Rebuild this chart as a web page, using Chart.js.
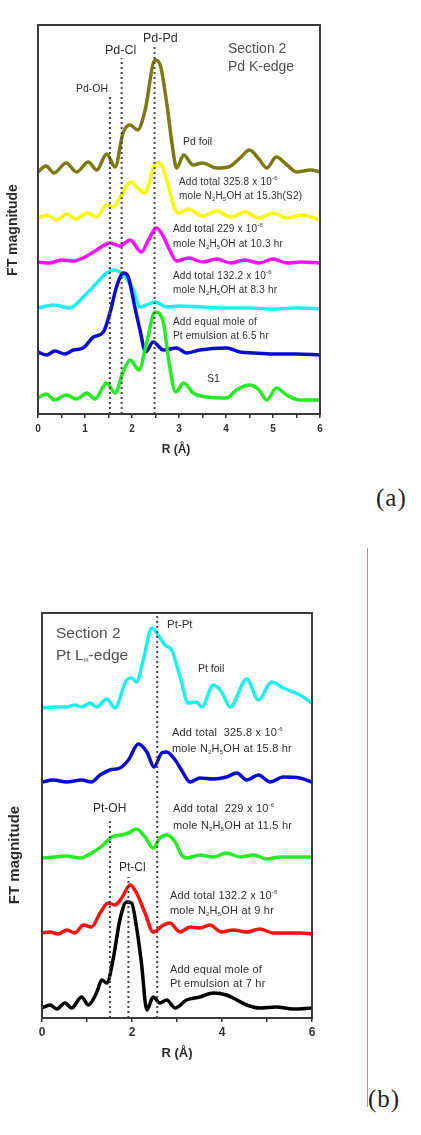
<!DOCTYPE html>
<html>
<head>
<meta charset="utf-8">
<script src="https://cdn.jsdelivr.net/npm/chart.js@4.4.1/dist/chart.umd.min.js"></script>
<style>
  body { margin: 0; background: #fff; width: 421px; height: 1135px; position: relative; overflow: hidden;
         font-family: Arial, "Liberation Sans", sans-serif; color: #2e2e2e; }
  canvas { position: absolute; left: 0; }
  .t { position: absolute; white-space: nowrap; line-height: 1; }
  .ann { font-size: 10px; line-height: 14px; letter-spacing: 0.2px; }
  .annb { font-size: 11px; letter-spacing: 0.2px; }
  sub { font-size: 6px; vertical-align: -2px; line-height: 0; }
  sup { font-size: 6px; vertical-align: 5px; line-height: 0; }
  .bold { font-weight: bold; color: #2a2a2a; }
  .rot { transform: translate(-50%, -50%) rotate(-90deg); }
  .ser { font-family: "Liberation Serif", "Times New Roman", serif; font-size: 25px; color: #222; letter-spacing: 1px; }
</style>
</head>
<body>
<canvas id="chartA" width="340" height="470" style="top:0"></canvas>
<canvas id="chartB" width="340" height="520" style="top:560px"></canvas>

<!-- panel (a) labels -->
<div class="t" style="left:76px;top:83px;font-size:10.5px">Pd-OH</div>
<div class="t" style="left:105px;top:44px;font-size:12.5px">Pd-Cl</div>
<div class="t" style="left:143px;top:32px;font-size:12.5px">Pd-Pd</div>
<div class="t" style="left:228px;top:39px;font-size:14px;line-height:18px;color:#505050">Section 2<br>Pd K-edge</div>
<div class="t" style="left:183px;top:136px;font-size:10.5px">Pd foil</div>
<div class="t ann" style="left:179px;top:175px">Add total 325.8 x 10<sup>-6</sup><br>mole N<sub>2</sub>H<sub>5</sub>OH at 15.3h(S2)</div>
<div class="t ann" style="left:173px;top:221px;line-height:15px">Add total 229 x 10<sup>-6</sup><br>mole N<sub>2</sub>H<sub>5</sub>OH at 10.3 hr</div>
<div class="t ann" style="left:173px;top:269px">Add total 132.2 x 10<sup>-6</sup><br>mole N<sub>2</sub>H<sub>5</sub>OH at 8.3 hr</div>
<div class="t ann" style="left:173px;top:315px">Add equal mole of<br>Pt emulsion at 6.5 hr</div>
<div class="t" style="left:207px;top:373px;font-size:10.5px">S1</div>
<div class="t bold rot" style="left:12px;top:230px;font-size:14px">FT magnitude</div>
<div class="t bold" style="left:146px;top:443px;width:60px;text-align:center;font-size:12px">R (Å)</div>
<div class="t ser" style="left:376px;top:485px">(a)</div>

<!-- panel (b) labels -->
<div class="t" style="left:56px;top:622px;font-size:15.5px;line-height:22px;color:#505050">Section 2<br>Pt L<sub>III</sub>-edge</div>
<div class="t" style="left:167px;top:619px;font-size:11.5px">Pt-Pt</div>
<div class="t" style="left:198px;top:663px;font-size:10.5px">Pt foil</div>
<div class="t annb" style="left:172px;top:724px;line-height:16px">Add total &nbsp;325.8 x 10<sup>-6</sup><br>mole N<sub>2</sub>H<sub>5</sub>OH at 15.8 hr</div>
<div class="t" style="left:93px;top:802px;font-size:12px">Pt-OH</div>
<div class="t annb" style="left:173px;top:800px;line-height:17px">Add total &nbsp;229 x 10<sup>-6</sup><br>mole N<sub>2</sub>H<sub>5</sub>OH at 11.5 hr</div>
<div class="t" style="left:119px;top:861px;font-size:12px">Pt-Cl</div>
<div class="t annb" style="left:170px;top:888px;line-height:15px">Add total 132.2 x 10<sup>-6</sup><br>mole N<sub>2</sub>H<sub>5</sub>OH at 9 hr</div>
<div class="t annb" style="left:170px;top:962px;line-height:14px">Add equal mole of<br>Pt emulsion at 7 hr</div>
<div class="t bold rot" style="left:13px;top:855px;font-size:15px">FT magnitude</div>
<div class="t bold" style="left:147px;top:1046px;width:60px;text-align:center;font-size:13px">R (Å)</div>
<div class="t ser" style="left:368px;top:1086px">(b)</div>

<div style="position:absolute;left:367px;top:548px;width:1px;height:559px;background:#ee7777"></div>

<script>
/* global Chart */

// ---- panel (a): Pd K-edge, offset FT magnitudes (a.u.) ----
const foilR = [0, 0.17, 0.34, 0.6, 0.82, 1.07, 1.25, 1.46, 1.64, 1.81, 1.96, 2.12, 2.28, 2.49, 2.6, 2.75, 2.85, 2.95, 3.1, 3.3, 3.5, 3.8, 4.05, 4.3, 4.5, 4.7, 4.87, 5.07, 5.3, 5.5, 5.8, 6];
const foilFT = [24.2, 24.8, 24.1, 25.1, 24.2, 25.2, 24.4, 26.0, 24.7, 28.1, 28.9, 28.4, 30.4, 35.4, 34.9, 30.7, 27.1, 24.6, 25.9, 24.9, 25.1, 24.6, 24.7, 25.6, 26.4, 25.5, 24.6, 25.7, 24.9, 24.2, 24.4, 24.2];

const s2R = [0, 0.2, 0.4, 0.6, 0.8, 1.05, 1.25, 1.45, 1.6, 1.75, 1.97, 2.12, 2.27, 2.52, 2.65, 2.78, 2.9, 3.0, 3.2, 3.5, 3.8, 4.1, 4.4, 4.7, 5.0, 5.3, 5.6, 6];
const s2FT = [19.6, 19.9, 19.4, 20.0, 19.5, 20.1, 19.7, 20.9, 20.7, 21.7, 23.2, 22.6, 22.1, 25.2, 24.7, 22.7, 20.6, 20.1, 20.5, 19.8, 20.3, 19.7, 20.2, 19.6, 20.1, 19.6, 19.9, 19.4];

const pd229R = [0, 0.25, 0.5, 0.75, 1.0, 1.25, 1.53, 1.74, 1.96, 2.2, 2.35, 2.52, 2.65, 2.8, 2.95, 3.2, 3.5, 3.8, 4.1, 4.4, 4.7, 5.0, 5.3, 5.6, 6];
const pd229FT = [15.2, 15.1, 15.4, 15.3, 15.7, 16.4, 17.1, 16.8, 17.4, 16.2, 17.4, 18.6, 17.9, 16.4, 15.3, 15.6, 15.2, 15.5, 15.1, 15.4, 15.1, 15.5, 15.1, 15.2, 15.1];

const pd132R = [0, 0.33, 0.68, 0.96, 1.25, 1.46, 1.6, 1.82, 2.03, 2.17, 2.3, 2.49, 2.74, 3.0, 3.5, 4.0, 4.5, 5.0, 5.5, 6];
const pd132FT = [10.6, 10.9, 10.6, 11.7, 13.1, 14.1, 14.4, 13.9, 12.4, 10.7, 10.9, 11.2, 10.7, 10.8, 10.7, 10.6, 10.6, 10.5, 10.6, 10.5];

const pdEqR = [0, 0.18, 0.36, 0.57, 0.75, 0.96, 1.18, 1.39, 1.53, 1.67, 1.82, 1.92, 2.06, 2.17, 2.29, 2.45, 2.67, 2.95, 3.16, 3.44, 4.01, 4.3, 4.58, 5.0, 5.5, 6];
const pdEqFT = [6.2, 5.9, 6.3, 6.0, 6.4, 6.6, 7.7, 8.2, 10.1, 12.7, 14.1, 13.7, 10.7, 8.4, 6.2, 7.2, 6.4, 6.6, 6.1, 6.4, 6.6, 6.2, 6.1, 6.0, 6.0, 5.9];

const s1R = [0, 0.17, 0.35, 0.6, 0.82, 1.04, 1.21, 1.46, 1.64, 1.81, 1.96, 2.15, 2.31, 2.49, 2.67, 2.77, 2.93, 3.1, 3.3, 3.6, 4.01, 4.22, 4.51, 4.7, 4.87, 5.07, 5.29, 5.57, 6];
const s1FT = [1.6, 2.0, 1.4, 1.9, 1.5, 2.1, 1.5, 3.1, 2.1, 4.2, 5.4, 4.4, 7.1, 10.2, 9.1, 5.7, 2.2, 3.1, 2.1, 1.7, 1.6, 2.4, 2.9, 2.4, 1.4, 2.6, 1.9, 1.4, 1.4];

// Pd-OH, Pd-Cl, Pd-Pd reference distances
const bondRA = [1.53, 1.78, 2.48];
const bondTopA = [31.7, 35.6, 36.9];

// ---- panel (b): Pt LIII-edge ----
const ptFoilR = [0, 0.25, 0.55, 0.73, 0.88, 1.07, 1.21, 1.44, 1.62, 1.88, 1.99, 2.1, 2.25, 2.44, 2.58, 2.73, 2.88, 3.07, 3.25, 3.44, 3.55, 3.81, 3.99, 4.18, 4.55, 4.81, 5.1, 5.36, 5.73, 6];
const ptFoilFT = [31.0, 31.1, 31.1, 31.3, 31.1, 31.5, 31.1, 31.9, 31.0, 33.8, 34.0, 33.6, 35.8, 39.0, 38.3, 37.3, 36.8, 34.1, 31.5, 31.6, 31.1, 33.3, 32.6, 31.1, 33.9, 31.8, 33.6, 33.0, 32.3, 31.5];

const pt326R = [0, 0.25, 0.55, 0.88, 1.1, 1.29, 1.51, 1.73, 1.92, 2.14, 2.33, 2.49, 2.66, 2.77, 2.96, 3.1, 3.29, 3.51, 3.81, 4.1, 4.33, 4.55, 4.81, 5.07, 5.36, 5.73, 6];
const pt326FT = [23.6, 23.8, 23.6, 23.8, 23.6, 24.3, 24.8, 25.0, 25.8, 27.4, 26.6, 25.1, 26.5, 26.6, 25.8, 24.8, 23.6, 24.0, 23.9, 24.1, 24.5, 23.8, 24.3, 23.6, 24.1, 24.0, 23.6];

const pt229R = [0, 0.29, 0.55, 0.84, 1.14, 1.36, 1.55, 1.77, 1.92, 2.1, 2.29, 2.47, 2.62, 2.77, 2.96, 3.1, 3.21, 3.51, 3.81, 4.1, 4.4, 4.7, 4.99, 5.29, 5.58, 6];
const pt229FT = [16.0, 16.1, 16.2, 16.0, 16.6, 17.3, 18.1, 18.3, 18.5, 18.9, 18.1, 17.0, 18.0, 18.3, 17.6, 16.3, 16.0, 16.3, 16.1, 16.5, 16.1, 16.3, 15.9, 16.1, 16.1, 16.1];

const pt132R = [0, 0.18, 0.36, 0.55, 0.73, 0.92, 1.1, 1.29, 1.47, 1.62, 1.77, 1.96, 2.1, 2.29, 2.47, 2.7, 2.84, 3.07, 3.29, 3.51, 3.73, 3.99, 4.25, 4.55, 4.84, 5.14, 5.44, 5.73, 6];
const pt132FT = [8.5, 8.6, 8.4, 8.8, 8.5, 9.3, 9.1, 10.5, 11.5, 11.3, 12.0, 13.3, 12.5, 10.5, 8.6, 9.3, 9.5, 8.6, 9.1, 9.0, 9.3, 8.6, 8.8, 8.6, 8.9, 8.5, 8.5, 8.5, 8.4];

const ptEqR = [0, 0.18, 0.33, 0.51, 0.66, 0.88, 1.03, 1.21, 1.33, 1.44, 1.59, 1.73, 1.88, 1.99, 2.1, 2.21, 2.33, 2.47, 2.62, 2.77, 2.96, 3.21, 3.51, 3.81, 4.1, 4.33, 4.55, 4.84, 5.21, 5.58, 6];
const ptEqFT = [1.0, 1.3, 0.9, 1.5, 1.0, 2.1, 1.3, 2.5, 3.8, 3.5, 6.1, 9.8, 11.6, 11.5, 9.1, 5.5, 0.8, 2.1, 1.5, 1.8, 1.0, 1.8, 2.1, 2.5, 2.3, 1.8, 1.3, 1.0, 1.1, 0.9, 1.0];

// Pt-OH, Pt-Cl, Pt-Pt reference distances
const bondRB = [1.51, 1.92, 2.56];
const bondTopB = [19.8, 14.1, 40.5];

const pts = (r, v) => r.map((x, i) => ({ x, y: v[i] }));

// frame around the plot area
const framePlugin = {
  id: 'frame',
  afterDatasetsDraw(chart) {
    const { ctx, chartArea: a } = chart;
    ctx.save();
    ctx.strokeStyle = '#3a3a3a';
    ctx.lineWidth = 2;
    ctx.strokeRect(a.left, a.top, a.right - a.left, a.bottom - a.top);
    ctx.restore();
  },
};

function createFtChart(canvasId, curves, bondR, bondTop, cfg) {
  const dotted = bondR.map((r, i) => ({
    data: [{ x: r, y: 0 }, { x: r, y: bondTop[i] }],
    borderColor: '#444',
    borderWidth: 2,
    borderDash: [2, 3],
    pointRadius: 0,
  }));
  const lines = curves.map(c => ({
    data: pts(c.r, c.v),
    borderColor: c.color,
    borderWidth: 3.5,
    pointRadius: 0,
    cubicInterpolationMode: 'monotone',
  }));

  return new Chart(document.getElementById(canvasId), {
    type: 'line',
    data: { datasets: [...dotted, ...lines] },
    options: {
      responsive: false,
      animation: false,
      layout: { padding: cfg.padding },
      plugins: { legend: { display: false }, tooltip: { enabled: false } },
      scales: {
        x: {
          type: 'linear',
          min: 0,
          max: 6,
          afterFit: s => { s.height = cfg.axisHeight; },
          border: { display: false },
          grid: { drawOnChartArea: false, tickLength: 4, color: '#333', lineWidth: 1.5 },
          ticks: {
            stepSize: cfg.step,
            autoSkip: false,
            maxRotation: 0,
            padding: cfg.tickPad,
            color: '#333',
            font: { family: 'Arial', size: cfg.tickSize, weight: 'bold' },
            callback: v => (Math.abs(v % cfg.labelEvery) < 1e-6 ? String(v) : ''),
          },
        },
        y: { display: false, min: 0, max: cfg.yMax },
      },
    },
    plugins: [framePlugin],
  });
}

createFtChart('chartA', [
  { r: s1R, v: s1FT, color: '#22ee22' },
  { r: pdEqR, v: pdEqFT, color: '#0a0ad2' },
  { r: pd132R, v: pd132FT, color: '#1ef0f0' },
  { r: pd229R, v: pd229FT, color: '#ff10ff' },
  { r: s2R, v: s2FT, color: '#f8f800' },
  { r: foilR, v: foilFT, color: '#7a7a10' },
], bondRA, bondTopA, {
  padding: { left: 38, right: 20, top: 25, bottom: 0 },
  axisHeight: 56, step: 0.5, labelEvery: 1, tickPad: 5, tickSize: 10, yMax: 38.9,
});

createFtChart('chartB', [
  { r: ptEqR, v: ptEqFT, color: '#000000' },
  { r: pt132R, v: pt132FT, color: '#ff1010' },
  { r: pt229R, v: pt229FT, color: '#22ee22' },
  { r: pt326R, v: pt326FT, color: '#0a0ad2' },
  { r: ptFoilR, v: ptFoilFT, color: '#1ef0f0' },
], bondRB, bondTopB, {
  padding: { left: 42, right: 28, top: 53, bottom: 0 },
  axisHeight: 62, step: 1, labelEvery: 2, tickPad: 3, tickSize: 12, yMax: 40.5,
});
</script>
</body>
</html>
